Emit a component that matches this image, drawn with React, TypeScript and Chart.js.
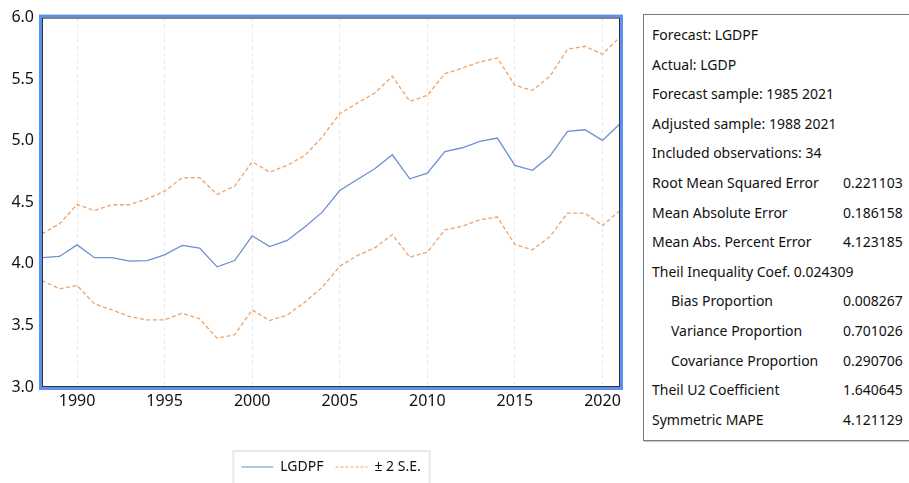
import React, { useEffect, useRef } from "react";
import { Chart, registerables } from "chart.js";

Chart.register(...registerables);

const years = [
  1988, 1989, 1990, 1991, 1992, 1993, 1994, 1995, 1996, 1997, 1998, 1999,
  2000, 2001, 2002, 2003, 2004, 2005, 2006, 2007, 2008, 2009, 2010, 2011,
  2012, 2013, 2014, 2015, 2016, 2017, 2018, 2019, 2020, 2021,
];
const forecast = [
  4.05, 4.06, 4.154, 4.05, 4.05, 4.022, 4.027, 4.073, 4.15, 4.128, 3.976, 4.027,
  4.228, 4.14, 4.19, 4.3, 4.42, 4.596, 4.685, 4.772, 4.886, 4.691, 4.737, 4.911,
  4.943, 4.994, 5.022, 4.8, 4.76, 4.876, 5.076, 5.089, 5.003, 5.138,
];
const upper = [
  4.244, 4.325, 4.482, 4.433, 4.48, 4.48, 4.528, 4.59, 4.699, 4.7, 4.563, 4.632,
  4.829, 4.745, 4.8, 4.88, 5.03, 5.22, 5.306, 5.388, 5.523, 5.32, 5.368, 5.545,
  5.59, 5.64, 5.672, 5.45, 5.409, 5.523, 5.743, 5.767, 5.702, 5.843,
];
const lower = [
  3.865, 3.797, 3.824, 3.675, 3.626, 3.571, 3.545, 3.545, 3.599, 3.553, 3.396, 3.425,
  3.626, 3.54, 3.585, 3.689, 3.81, 3.981, 4.067, 4.13, 4.238, 4.054, 4.095, 4.276,
  4.306, 4.358, 4.38, 4.157, 4.114, 4.222, 4.412, 4.412, 4.311, 4.433,
];
const xTicks = [1990, 1995, 2000, 2005, 2010, 2015, 2020];
const yTicks = [3.0, 3.5, 4.0, 4.5, 5.0, 5.5, 6.0];
const seriesNames = ["LGDPF", "± 2 S.E."];

const statLabels = [
  "Forecast: LGDPF",
  "Actual: LGDP",
  "Forecast sample: 1985 2021",
  "Adjusted sample: 1988 2021",
  "Included observations: 34",
  "Root Mean Squared Error",
  "Mean Absolute Error",
  "Mean Abs. Percent Error",
  "Theil Inequality Coef. 0.024309",
  "Bias Proportion",
  "Variance Proportion",
  "Covariance Proportion",
  "Theil U2 Coefficient",
  "Symmetric MAPE",
];
const statValues = [
  "", "", "", "", "",
  "0.221103", "0.186158", "4.123185", "",
  "0.008267", "0.701026", "0.290706", "1.640645", "4.121129",
];
const statIndent = [0, 0, 0, 0, 0, 0, 0, 0, 0, 1, 1, 1, 0, 0];

const BLUE = "#6d8fd0";
const ORANGE = "#f0a266";
const FONT = "'Noto Sans', 'Open Sans', sans-serif";

const framePlugin = {
  id: "frame",
  afterDraw(chart: any) {
    const { ctx, chartArea: a } = chart;
    ctx.save();
    ctx.strokeStyle = "#5b8ff0";
    ctx.lineWidth = 3;
    ctx.strokeRect(a.left - 1.5, a.top - 1.5, a.right - a.left + 3, a.bottom - a.top + 3);
    ctx.strokeStyle = "#333";
    ctx.lineWidth = 1;
    ctx.strokeRect(a.left + 0.5, a.top + 0.5, a.right - a.left - 1, a.bottom - a.top - 1);
    const lg = chart.legend;
    if (lg && lg.legendHitBoxes && lg.legendHitBoxes.length) {
      const hb = lg.legendHitBoxes;
      const first = hb[0];
      const last = hb[hb.length - 1];
      const l = first.left - 8;
      const r = last.left + last.width + 9;
      const t = first.top - 9;
      ctx.strokeStyle = "#e8e8e8";
      ctx.lineWidth = 2;
      ctx.strokeRect(l, t, r - l, 60);
    }
    ctx.restore();
  },
};

function ForecastChart() {
  const ref = useRef<HTMLCanvasElement | null>(null);
  useEffect(() => {
    if (!ref.current) return;
    const mk = (vals: number[]) => years.map((y, i) => ({ x: y, y: vals[i] }));
    const chart = new Chart(ref.current, {
      type: "line",
      data: {
        datasets: [
          {
            label: seriesNames[0],
            data: mk(forecast),
            borderColor: BLUE,
            backgroundColor: BLUE,
            borderWidth: 1.3,
            pointRadius: 0,
            tension: 0,
          },
          {
            label: seriesNames[1],
            data: mk(upper),
            borderColor: ORANGE,
            backgroundColor: ORANGE,
            borderWidth: 1.3,
            borderDash: [4, 2.5],
            pointRadius: 0,
            tension: 0,
          },
          {
            label: "lower",
            data: mk(lower),
            borderColor: ORANGE,
            backgroundColor: ORANGE,
            borderWidth: 1.3,
            borderDash: [4, 2.5],
            pointRadius: 0,
            tension: 0,
          },
        ],
      },
      options: {
        responsive: false,
        animation: false,
        devicePixelRatio: 1,
        layout: { padding: { top: 15, right: 20, left: 0, bottom: 0 } },
        plugins: {
          tooltip: { enabled: false },
          legend: {
            position: "bottom",
            fullSize: false,
            labels: {
              color: "#111",
              font: { family: FONT, size: 14 },
              usePointStyle: true,
              pointStyleWidth: 32,
              boxWidth: 32,
              padding: 12,
              generateLabels: (chart: any) =>
                chart.data.datasets.slice(0, 2).map((ds: any, i: number) => ({
                  text: ds.label,
                  fillStyle: ds.borderColor,
                  strokeStyle: ds.borderColor,
                  lineWidth: 1.2,
                  lineDash: i === 1 ? [3, 2] : [],
                  pointStyle: "line",
                  hidden: false,
                  datasetIndex: i,
                  fontColor: "#111",
                })),
            },
          },
        },
        scales: {
          x: {
            type: "linear",
            min: 1988,
            max: 2021,
            afterBuildTicks: (s: any) => {
              s.ticks = xTicks.map((v) => ({ value: v }));
            },
            afterFit: (s: any) => {
              s.height = 61;
            },
            grid: { color: "#e8e8e8", drawTicks: false, lineWidth: 1 },
            border: { display: false, dash: [4, 3] },
            ticks: {
              color: "#111",
              font: { family: FONT, size: 16 },
              padding: 5,
              maxRotation: 0,
              callback: (v: any) => String(v),
            },
          },
          y: {
            min: 3,
            max: 6,
            afterBuildTicks: (s: any) => {
              s.ticks = yTicks.map((v) => ({ value: v }));
            },
            afterFit: (s: any) => {
              s.width = 42;
            },
            grid: { display: false, drawTicks: false },
            border: { display: false },
            ticks: {
              color: "#111",
              font: { family: FONT, size: 16 },
              padding: 8,
              callback: (v: any) => Number(v).toFixed(1),
            },
          },
        },
      },
      plugins: [framePlugin],
    });
    return () => chart.destroy();
  }, []);
  return (
    <canvas
      ref={ref}
      width={640}
      height={484}
      style={{ position: "absolute", left: 0, top: 0, width: 640, height: 484 }}
    />
  );
}

function StatsBox() {
  return (
    <div
      style={{
        position: "absolute",
        left: 643,
        top: 14,
        width: 300,
        height: 427,
        border: "1px solid #7a7a7a",
        boxShadow: "1px 1px 1px #cfcfcf",
        background: "#fff",
        fontFamily: FONT,
        fontSize: 14,
        color: "#111",
        boxSizing: "border-box",
      }}
    >
      {statLabels.map((lab, i) => (
        <div
          key={i}
          style={{
            position: "absolute",
            top: 5 + i * 29.6,
            left: 8 + statIndent[i] * 19,
            height: 29.6,
            lineHeight: "29.6px",
            whiteSpace: "nowrap",
          }}
        >
          {lab}
        </div>
      ))}
      {statValues.map((v, i) =>
        v ? (
          <div
            key={"v" + i}
            style={{
              position: "absolute",
              top: 5 + i * 29.6,
              left: 199,
              height: 29.6,
              lineHeight: "29.6px",
              whiteSpace: "nowrap",
            }}
          >
            {v}
          </div>
        ) : null
      )}
    </div>
  );
}

export default function App() {
  return (
    <div
      style={{
        position: "fixed",
        left: 0,
        top: 0,
        width: 909,
        height: 483,
        overflow: "hidden",
        background: "#fff",
      }}
    >
      <ForecastChart />
      <StatsBox />
    </div>
  );
}
